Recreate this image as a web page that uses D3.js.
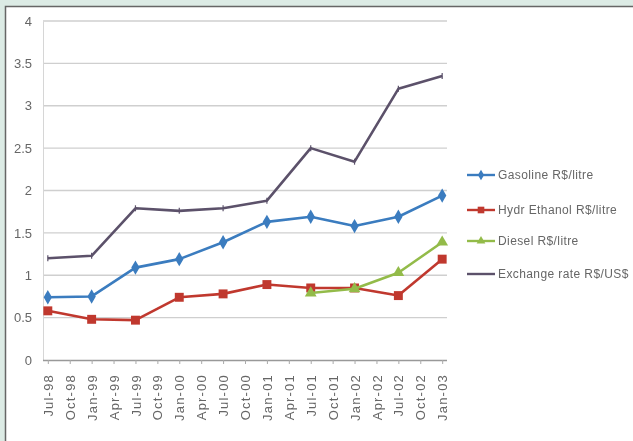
<!DOCTYPE html>
<html>
<head>
<meta charset="utf-8">
<script src="https://cdn.jsdelivr.net/npm/d3@7"></script>
<style>
  body { margin: 0; background: #dcebe5; }
  #chart { position: absolute; left: 0; top: 0; }
  text { font-family: "Liberation Sans", Arial, sans-serif; fill: #666; }
</style>
</head>
<body>
<div id="chart"></div>
<script>
/* Brazil fuel prices vs exchange rate, Jul-98 to Jan-03 */

// quarterly category labels on the x axis
const tickLabels = ["Jul-98", "Oct-98", "Jan-99", "Apr-99", "Jul-99", "Oct-99", "Jan-00", "Apr-00",
    "Jul-00", "Oct-00", "Jan-01", "Apr-01", "Jul-01", "Oct-01", "Jan-02", "Apr-02", "Jul-02", "Oct-02", "Jan-03"];

// half-yearly observation dates
const dates = ["Jul-98", "Jan-99", "Jul-99", "Jan-00", "Jul-00", "Jan-01", "Jul-01", "Jan-02", "Jul-02", "Jan-03"];

const gasoline = [0.74, 0.75, 1.09, 1.19, 1.39, 1.63, 1.69, 1.58, 1.69, 1.94];
const ethanol  = [0.58, 0.48, 0.47, 0.74, 0.78, 0.89, 0.85, 0.85, 0.76, 1.19];
const diesel   = [null, null, null, null, null, null, 0.79, 0.84, 1.03, 1.39];
const exchange = [1.20, 1.23, 1.79, 1.76, 1.79, 1.88, 2.50, 2.34, 3.20, 3.35];

const yTicks = [0, 0.5, 1, 1.5, 2, 2.5, 3, 3.5, 4];

const seriesNames = ["Gasoline R$/litre", "Hydr Ethanol R$/litre", "Diesel R$/litre", "Exchange rate R$/US$"];

const series = [
    {name: seriesNames[0], values: gasoline, color: "#3a7cbf", marker: "diamond"},
    {name: seriesNames[1], values: ethanol, color: "#c0392f", marker: "square"},
    {name: seriesNames[2], values: diesel, color: "#93bb4a", marker: "triangle"},
    {name: seriesNames[3], values: exchange, color: "#5b516a", marker: "dash"}
];

const width = 633, height = 441,
      margin = ({top: 21, right: 186, bottom: 81, left: 43});

let svg = d3.select("#chart")
    .append("svg")
    .attr("width", width)
    .attr("height", height);

// soft blur, the source is a blurry screenshot
svg.append("defs").append("filter")
    .attr("id", "soft")
    .append("feGaussianBlur")
    .attr("stdDeviation", 0.45);

// white panel with dark edge like the screenshot frame
svg.append("rect")
    .attr("x", 5).attr("y", 6)
    .attr("width", width - 5).attr("height", height - 6)
    .attr("fill", "#fff");
svg.append("path")
    .attr("d", `M5.5,${height} V6.5 H${width}`)
    .attr("fill", "none")
    .attr("stroke", "#666")
    .attr("stroke-width", 1.5);

let plot = svg.append("g").attr("filter", "url(#soft)");

let x = d3.scalePoint()
    .domain(tickLabels)
    .range([margin.left, width - margin.right])
    .padding(0.22);

let y = d3.scaleLinear()
    .domain([0, 4])
    .range([height - margin.bottom, margin.top]);

// gridlines
plot.append("g")
    .selectAll("line")
    .data(yTicks.slice(1))
    .join("line")
    .attr("x1", margin.left)
    .attr("x2", width - margin.right)
    .attr("y1", d => y(d))
    .attr("y2", d => y(d))
    .attr("stroke", "#cfcfcf")
    .attr("stroke-width", 1.3);

// y axis
const yAxis = g => g
    .attr("transform", `translate(${margin.left},0)`)
    .call(d3.axisLeft(y).tickValues(yTicks).tickSize(0).tickPadding(11).tickFormat(d3.format("")))
    .call(g => g.select(".domain").attr("stroke", "#d6d6d6"))
    .call(g => g.selectAll("text").attr("font-size", 13).attr("fill", "#777"));

plot.append("g").call(yAxis);

// x axis
const xAxis = g => g
    .attr("transform", `translate(0,${height - margin.bottom})`)
    .call(d3.axisBottom(x).tickSize(4).tickSizeOuter(0))
    .call(g => g.select(".domain").attr("d", `M${margin.left},0.5H${width - margin.right}`).attr("stroke", "#999").attr("stroke-width", 1.3))
    .call(g => g.selectAll(".tick line").attr("stroke", "#aaa"))
    .call(g => g.selectAll("text")
        .attr("font-size", 13)
        .attr("letter-spacing", 1.2)
        .attr("fill", "#666")
        .attr("transform", "rotate(-90)")
        .attr("text-anchor", "end")
        .attr("x", -14)
        .attr("y", 0)
        .attr("dy", "0.35em"));

plot.append("g").call(xAxis);

const line = d3.line()
    .defined(d => d.v != null)
    .x(d => x(d.date))
    .y(d => y(d.v));

const symbolFor = {diamond: d3.symbolDiamond, square: d3.symbolSquare, triangle: d3.symbolTriangle};
const sizeFor = {diamond: 60, square: 80, triangle: 60};

let lines = plot.selectAll(".series")
    .data(series)
    .join("g")
    .attr("class", "series");

lines.append("path")
    .attr("fill", "none")
    .attr("stroke", d => d.color)
    .attr("stroke-width", 2.6)
    .attr("stroke-linejoin", "round")
    .attr("d", s => line(s.values.map((v, i) => ({date: dates[i], v}))));

let pts = lines.selectAll(".pt")
    .data(s => s.values.map((v, i) => ({date: dates[i], v, s})).filter(d => d.v != null))
    .join("g")
    .attr("class", "pt")
    .attr("transform", d => `translate(${x(d.date)},${y(d.v)})`);

pts.filter(d => d.s.marker !== "dash")
    .append("path")
    .attr("d", d => d3.symbol(symbolFor[d.s.marker], sizeFor[d.s.marker])())
    .attr("fill", d => d.s.color);

// exchange rate uses a small vertical dash marker
pts.filter(d => d.s.marker === "dash")
    .append("line")
    .attr("y1", -3).attr("y2", 3)
    .attr("stroke", d => d.s.color)
    .attr("stroke-width", 1.2);

// legend
let legend = plot.append("g")
    .attr("transform", "translate(467,0)");

let item = legend.selectAll("g")
    .data(series)
    .join("g")
    .attr("transform", (d, i) => `translate(0,${[175, 210, 241, 274][i]})`);

item.append("line")
    .attr("x1", 0).attr("x2", 28)
    .attr("stroke", d => d.color)
    .attr("stroke-width", 2.4);

item.filter(d => d.marker !== "dash")
    .append("path")
    .attr("transform", "translate(14,0)")
    .attr("d", d => d3.symbol(symbolFor[d.marker], sizeFor[d.marker] * 0.55)())
    .attr("fill", d => d.color);

item.append("text")
    .attr("x", 31)
    .attr("dy", "0.35em")
    .attr("font-size", 12)
    .attr("letter-spacing", 0.4)
    .attr("fill", "#666")
    .text(d => d.name);
</script>
</body>
</html>
